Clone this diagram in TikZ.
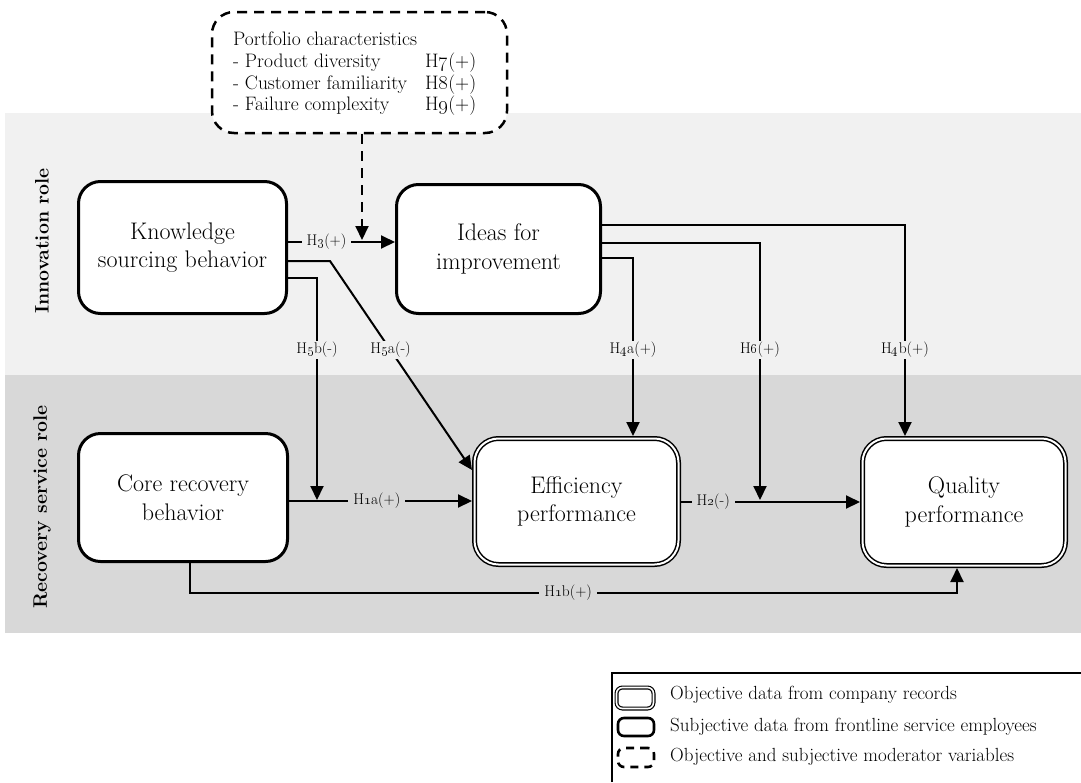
\documentclass[tikz,border=0pt]{standalone}
\usetikzlibrary{arrows.meta}
\definecolor{bandtop}{HTML}{F1F1F1}
\definecolor{bandbottom}{HTML}{D8D8D8}
% hypothesis label with old-style figures
\newcommand\hyp[2]{H\oldstylenums{#1}#2}
\newcommand\boxtextfont{\fontsize{24}{28.5}\selectfont}
\newcommand\modtextfont{\fontsize{19.5}{21.8}\selectfont}
\newcommand\labtextfont{\fontsize{15.5}{17}\selectfont}
\newcommand\legtextfont{\fontsize{19}{21}\selectfont}
\newcommand\roletextfont{\fontsize{19.5}{21}\selectfont\bfseries}
\begin{document}
\begin{tikzpicture}[x=1pt,y=-1pt,
  box/.style={draw, line width=3pt, rounded corners=22pt, fill=white,
    align=center, inner sep=0pt, outer sep=1.5pt, font=\boxtextfont},
  dbox/.style={draw, line width=1.5pt, double=white, double distance=2pt,
    rounded corners=24pt, fill=white, align=center, inner sep=0pt,
    outer sep=2.5pt, font=\boxtextfont},
  modbox/.style={draw, line width=2.5pt, dash pattern=on 10pt off 7pt,
    rounded corners=22pt, fill=white, inner sep=0pt, outer sep=1.2pt},
  conn/.style={line width=2pt, -{Triangle[length=14pt,width=13pt]}},
  dconn/.style={conn, dash pattern=on 10pt off 7pt},
  labu/.style={fill=bandtop, font=\labtextfont, inner xsep=5pt, inner ysep=1pt},
  labd/.style={labu, fill=bandbottom},
  role/.style={font=\roletextfont, rotate=90},
  legtext/.style={anchor=west, font=\legtextfont, inner sep=0pt},
  legicon/.style={fill=white, rounded corners=6pt, inner sep=0pt}
]
\useasboundingbox (0,0) rectangle (1081,782);

% role bands
\fill[bandtop] (5,113) rectangle (1081,375);
\fill[bandbottom] (5,375) rectangle (1081,633);
\node[role] (roleInno) at (42,241) {Innovation role};
\node[role] (roleRec) at (42,507) {Recovery service role};

% moderator box
\node[modbox, minimum width=295pt, minimum height=121pt] (mod) at (359.5,72.5) {};
\node[anchor=north west, inner sep=0pt, font=\modtextfont] (modtext) at (233,30) {%
  \begin{tabular}{@{}p{192pt}@{}l@{}}
  \multicolumn{2}{@{}l@{}}{Portfolio characteristics}\\
  - Product diversity & \hyp{7}{(+)}\\
  - Customer familiarity & \hyp{8}{(+)}\\
  - Failure complexity & \hyp{9}{(+)}
  \end{tabular}};

% constructs
\node[box, minimum width=208pt, minimum height=132pt] (kn) at (182.5,247.5) {Knowledge\\sourcing behavior};
\node[box, minimum width=204pt, minimum height=129pt] (id) at (498.5,249) {Ideas for\\improvement};
\node[box, minimum width=209pt, minimum height=128pt] (cr) at (183,497.5) {Core recovery\\behavior};
\node[dbox, minimum width=204pt, minimum height=126pt] (ef) at (576.5,501.5) {Efficiency\\performance};
\node[dbox, minimum width=203pt, minimum height=127pt] (qu) at (964,502) {Quality\\performance};

% routing points
\coordinate (h3) at (0,242);
\coordinate (h3m) at (362,240);
\coordinate (h5aBend) at (330,261);
\coordinate (h5aTip) at (472,470);
\coordinate (h5bX) at (317,278);
\coordinate (h5bTip) at (317,500);
\coordinate (h1a) at (0,501);
\coordinate (h2) at (0,502);
\coordinate (h6X) at (760,243);
\coordinate (h6Tip) at (760,500);
\coordinate (h4aX) at (633,258);
\coordinate (h4bX) at (905,225);
\coordinate (h1bL) at (190,593);
\coordinate (h1bR) at (957,593);

% hypotheses
\draw[conn] (kn.east |- h3) -- node[labu, pos=0.36] (l3) {\hyp{3}{(+)}} (id.west |- h3);
\draw[dconn] (mod.south -| h3m) -- (h3m);
\draw[conn] (kn.east |- h5aBend) -- (h5aBend) -- node[labu, pos=0.426] (l5a) {\hyp{5}{a(-)}} (ef.west |- h5aTip);
\draw[conn] (kn.east |- h5bX) -- (h5bX) -- node[labu, pos=0.324] (l5b) {\hyp{5}{b(-)}} (h5bTip);
\draw[conn] (cr.east |- h1a) -- node[labd, pos=0.48] (l1a) {\hyp{1}{a(+)}} (ef.west |- h1a);
\draw[conn] (ef.east |- h2) -- node[labd, pos=0.18] (l2) {\hyp{2}{(-)}} (qu.west |- h2);
\draw[conn] (id.east |- h6X) -- (h6X) -- node[labu, pos=0.416] (l6) {\hyp{6}{(+)}} (h6Tip);
\draw[conn] (id.east |- h4aX) -- (h4aX) -- node[labu, pos=0.517] (l4a) {\hyp{4}{a(+)}} (ef.north -| h4aX);
\draw[conn] (id.east |- h4bX) -- (h4bX) -- node[labu, pos=0.592] (l4b) {\hyp{4}{b(+)}} (qu.north -| h4bX);
\draw[conn] (cr.south -| h1bL) -- (h1bL) -- node[labd, pos=0.493] (l1b) {\hyp{1}{b(+)}} (h1bR) -- (qu.south -| h1bR);

% legend
\draw[line width=2pt] (612,782) -- (612,673) -- (1081,673);
\node[legicon, draw, line width=1.2pt, double=white, double distance=1.6pt,
  minimum width=37pt, minimum height=21pt] (lgObj) at (635,698) {};
\node[legicon, draw, line width=2.6pt, minimum width=36pt, minimum height=18pt] (lgSubj) at (636,727) {};
\node[legicon, draw, line width=2.6pt, dash pattern=on 8pt off 6pt,
  minimum width=36pt, minimum height=19pt] (lgMod) at (636,757.5) {};
\node[legtext] (lgObjT) at (670,695) {Objective data from company records};
\node[legtext] (lgSubjT) at (670,727) {Subjective data from frontline service employees};
\node[legtext] (lgModT) at (670,757) {Objective and subjective moderator variables};
\end{tikzpicture}
\end{document}
